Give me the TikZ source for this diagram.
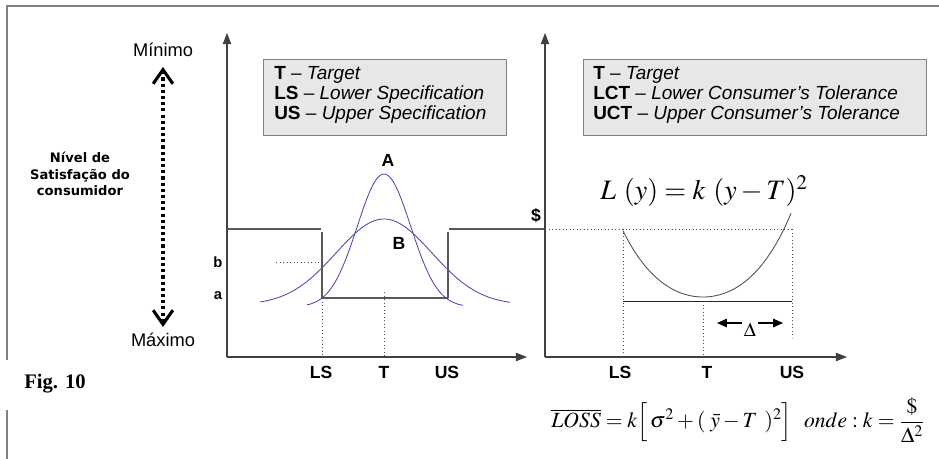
\documentclass[tikz,border=0pt]{standalone}
\usepackage{amsmath}
\usepackage{mathptmx}
\usepackage{fontspec}
\setmainfont{Liberation Sans}
\newfontfamily\figfont{Liberation Serif}
\newfontfamily\smallbold{DejaVu Sans}
\usetikzlibrary{arrows.meta}

\definecolor{curveblue}{RGB}{72,72,165}
\definecolor{boxgray}{RGB}{231,231,231}

\tikzset{
  axis/.style={draw=black!75,line width=0.9pt,-{Triangle[length=8pt,width=6pt]}},
  spec/.style={draw=black!65,line width=0.9pt},
  guide/.style={draw=black!70,dotted,line width=0.5pt},
  bell/.style={draw=curveblue,line width=0.6pt},
  tick/.style={font=\bfseries\fontsize{12.5}{14}\selectfont},
  legendbox/.style={draw=black!50,fill=boxgray,line width=0.7pt},
  legendtext/.style={anchor=north west,align=left,inner sep=0pt,
    font=\fontsize{13.5}{14.2}\selectfont},
  barb/.tip={Straight Barb[length=10pt,width=14pt,line width=2.2pt]},
}

\begin{document}
\begin{tikzpicture}[x=0.025cm,y=-0.025cm,line join=round]
\useasboundingbox (0,0) rectangle (939,459);

%% frame, broken by the figure tag
\draw[black!50,line width=0.8pt] (7,459) -- (7,6) -- (939,6);
\fill[white] (0,360) rectangle (115,410);
\node[font=\figfont\bfseries\fontsize{14.7}{16}\selectfont] (fig) at (55,384) {Fig. 10};

%% ---------------- satisfaction scale ----------------
\node[font=\fontsize{13}{15}\selectfont] (minimo) at (163,50) {Mínimo};
\node[font=\fontsize{13}{15}\selectfont] (maximo) at (163,340) {Máximo};
\coordinate (stop) at (163,67);
\coordinate (sbot) at (163,327);
\draw[line width=2.2pt,dash pattern=on 2.2pt off 2.2pt,barb-barb] (stop) -- (sbot);
\node[font=\smallbold\bfseries\fontsize{9.3}{11.6}\selectfont,align=center] (nivel) at (80,174)
  {Nível de\\Satisfação do\\consumidor};

%% ---------------- left panel: specification limits ----------------
\coordinate (O1) at (227,357);
\coordinate (Y1) at (227,33);
\coordinate (X1) at (527,357);
\draw[axis] (O1) -- (Y1);
\draw[axis] (O1) -- (X1);

\draw[legendbox] (263,59) rectangle (506,135);
\node[legendtext] (leg1) at (274,66)
  {\textbf{T} -- \textit{Target}\\
   \textbf{LS} -- \textit{Lower Specification}\\
   \textbf{US} -- \textit{Upper Specification}};

%% step of the spec limits
\coordinate (h0) at (227,229);
\coordinate (h1) at (321,229);
\coordinate (h2) at (449,229);
\coordinate (h3) at (545,229);
\draw[spec] (h0) -- (h1);
\draw[spec] (h2) -- (h3);
\draw[spec] (322,232) -- (322,298) -- (448,298) -- (448,232);

%% guides
\draw[guide] (276,262) -- (322,262);
\draw[guide] (322,298) -- (322,357);
\draw[guide] (384,292) -- (384,357);
\node[font=\bfseries\fontsize{10.5}{12}\selectfont] (lb) at (218,262) {b};
\node[font=\bfseries\fontsize{10.5}{12}\selectfont] (la) at (218,296) {a};

%% the two distributions
\draw[bell] plot[domain=307:463,samples=90,smooth]
  (\x,{307-133*exp(-((\x-384)/10)^2/14.28)});
\draw[bell] plot[domain=260:510,samples=90,smooth]
  (\x,{305-86*exp(-((\x-384)/10)^2/45.76)});
\node[tick] (lA) at (388,160) {A};
\node[tick] (lB) at (399,243) {B};

\node[tick] (ls1) at (321,372) {LS};
\node[tick] (t1) at (384,372) {T};
\node[tick] (us1) at (447,372) {US};

%% ---------------- right panel: quadratic loss ----------------
\coordinate (O2) at (545,357);
\coordinate (Y2) at (545,33);
\coordinate (X2) at (847,357);
\draw[axis] (O2) -- (Y2);
\draw[axis] (O2) -- (X2);

\draw[legendbox] (583,59) rectangle (926,135);
\node[legendtext] (leg2) at (593,66)
  {\textbf{T} -- \textit{Target}\\
   \textbf{LCT} -- \textit{Lower Consumer's Tolerance}\\
   \textbf{UCT} -- \textit{Upper Consumer's Tolerance}};

\node[tick] (dollar) at (536,216) {\$};
\draw[guide] (545,229) -- (792,229);
\draw[guide] (623,229) -- (623,357);
\draw[guide] (703,301) -- (703,357);
\draw[guide] (792,229) -- (792,338);
%% U-shaped loss, steeper towards the limits
\draw[black!70,line width=0.6pt] plot[domain=623:791,samples=80,smooth]
  (\x,{297-0.81*((\x-703)/10)^2-0.0035*((\x-703)/10)^4});
\draw[black!85,line width=0.7pt] (623,301) -- (792,301);

\node[font=\fontsize{20}{22}\selectfont] (lossfun) at (704,191)
  {$L\ (y) = k\ (y - T)^2$};

%% tolerance half-width
\node[font=\fontsize{14}{16}\selectfont,inner sep=0pt] (delta) at (750,330) {$\Delta$};
\coordinate (dl0) at (742,323);
\coordinate (dl1) at (717,323);
\coordinate (dr0) at (758,323);
\coordinate (dr1) at (783,323);
\draw[line width=1pt,-{Triangle[length=7pt,width=6pt]}] (dl0) -- (dl1);
\draw[line width=1pt,-{Triangle[length=7pt,width=6pt]}] (dr0) -- (dr1);

\node[tick] (ls2) at (620,372) {LS};
\node[tick] (t2) at (707,372) {T};
\node[tick] (us2) at (792,372) {US};

\node[font=\fontsize{15.4}{17}\selectfont] (lossavg) at (738,420)
  {$\overline{LOSS} = k\Big[\,\sigma^2 + (\;\bar{y} - T\;\,)^2\Big]\ \ onde : k = \dfrac{\$}{\Delta^2}$};

\end{tikzpicture}
\end{document}
